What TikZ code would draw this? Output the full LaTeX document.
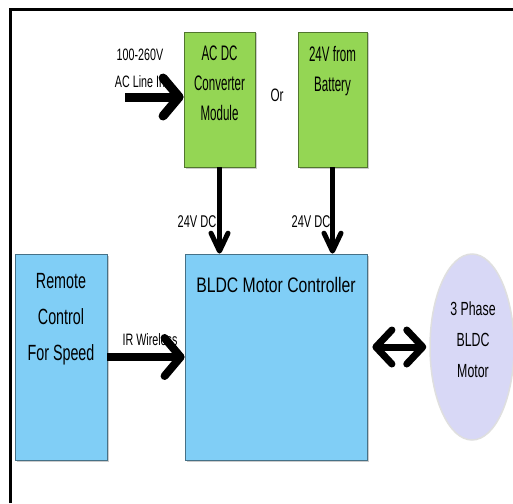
\documentclass[tikz,border=0pt]{standalone}
\usepackage{fontspec}
\setmainfont[FakeStretch=0.65]{Liberation Sans}
\newfontfamily\estrecha[FakeStretch=0.55]{Liberation Sans}
\newfontfamily\ancha[FakeStretch=0.75]{Liberation Sans}
\usepackage{tikz}
\usetikzlibrary{positioning,arrows.meta,shapes.geometric,shadows}
\definecolor{verde}{RGB}{148,214,84}
\definecolor{azul}{RGB}{128,206,246}
\definecolor{lila}{RGB}{216,216,246}

\begin{document}
\begin{tikzpicture}[x=1pt, y=-1pt,
  modulo/.style={draw=#1!55!black, fill=#1, line width=0.8pt, inner sep=0pt,
    drop shadow={shadow xshift=1.5pt, shadow yshift=-1.5pt, opacity=0.4}},
  rotulo/.style={inner sep=0pt, align=center},
  gruesa/.style={line width=#1, draw=black},
  punta/.style={-{Straight Barb[round, length=16pt, width=38pt]}},
  puntav/.style={-{Straight Barb[round, length=18pt, width=17pt]}}
]
\useasboundingbox (0,0) rectangle (513,503);
\draw[line width=3pt] (10.5,503) -- (10.5,9.5) -- (513,9.5);

% bloques
\node[modulo=verde, minimum width=71pt, minimum height=135pt] (conv) at (219.5,99.5) {};
\node[modulo=verde, minimum width=69pt, minimum height=135pt] (bat) at (332.5,99.5) {};
\node[modulo=azul, minimum width=182pt, minimum height=206pt] (ctrl) at (276,357) {};
\node[modulo=azul, minimum width=92pt, minimum height=206pt] (remoto) at (61,357) {};
\node[ellipse, draw=white!75!gray, line width=1.5pt, fill=lila,
  minimum width=84pt, minimum height=186pt, inner sep=0pt] (motor) at (472,347) {};

% textos
\node[rotulo, font=\estrecha\fontsize{21}{30}\selectfont, below=14pt of conv.north]
  (tconv) {AC DC\\Converter\\Module};
\node[rotulo, font=\estrecha\fontsize{21}{30}\selectfont, below=15pt of bat.north]
  (tbat) {24V from\\Battery};
\node[rotulo, font=\ancha\fontsize{21}{26}\selectfont, below=23pt of ctrl.north]
  (tctrl) {BLDC Motor Controller};
\node[rotulo, font=\fontsize{22}{36}\selectfont, below=20pt of remoto.north]
  (tremoto) {Remote\\Control\\For Speed};
\node[rotulo, font=\fontsize{19}{31}\selectfont] (tmotor) at (473,340)
  {3 Phase\\BLDC\\Motor};
\node[rotulo, font=\fontsize{16.5}{27}\selectfont] (linea) at (140,68)
  {100-260V\\AC Line In};
\node[rotulo, font=\fontsize{18}{20}\selectfont] (o) at (277,95) {Or};
\node[rotulo, font=\fontsize{17}{20}\selectfont] (dc1) at (197,222) {24V DC};
\node[rotulo, font=\fontsize{17}{20}\selectfont] (dc2) at (311,222) {24V DC};
\node[rotulo, font=\fontsize{16.5}{20}\selectfont] (ir) at (150,340) {IR Wireless};

% flechas
\coordinate (entrada) at (125,97);
\draw[gruesa=9pt, punta] (entrada) -- (entrada -| conv.west);
\draw[gruesa=5pt, puntav] (conv.south) -- (conv.south |- ctrl.north);
\draw[gruesa=5pt, puntav] (bat.south) -- (bat.south |- ctrl.north);
\draw[gruesa=8pt, punta] (remoto.east) -- (ctrl.west);
\draw[gruesa=7pt, {Straight Barb[round, length=16pt, width=34pt]}-{Straight Barb[round, length=16pt, width=34pt]}]
  ([xshift=5pt]ctrl.east |- motor.west) -- ([xshift=-3pt]motor.west);
\end{tikzpicture}
\end{document}
